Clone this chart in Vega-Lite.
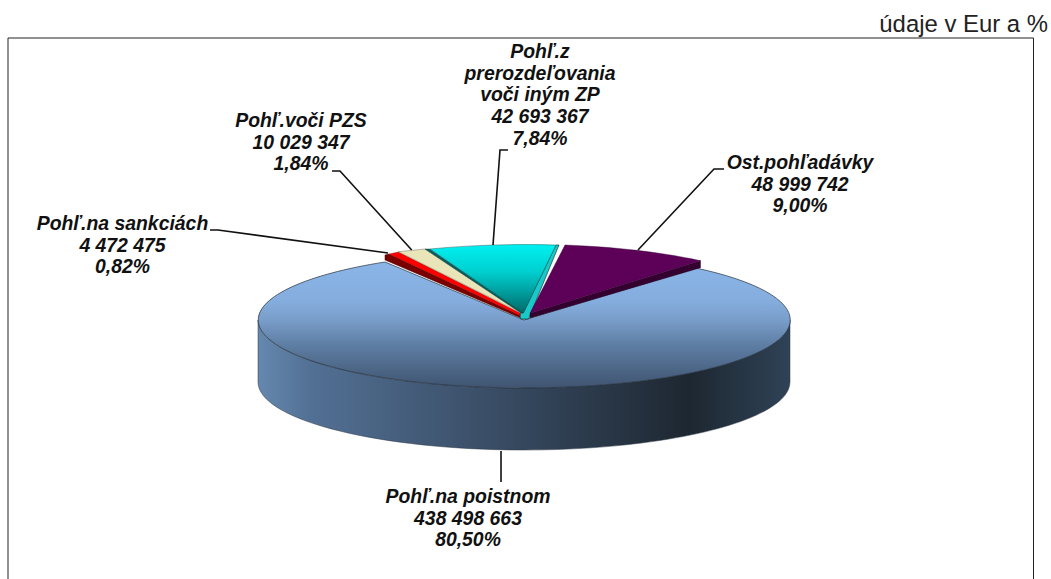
{
"$schema":"https://vega.github.io/schema/vega-lite/v6.json",
"width":1050,"height":578,
"autosize":"none",
"padding":{"left":0,"top":0,"right":1,"bottom":1},
"background":"white",
"view":{"stroke":null},
"title":{"text":"údaje v Eur a %","anchor":"end","frame":"group","offset":0,"dx":-2,"dy":55.5,"baseline":"alphabetic","font":"Liberation Sans","fontSize":23.9,"fontWeight":"normal","color":"#222222"},
"data":{"values":[
{"name":"Pohľ.na poistnom","value":438498663,"share":80.5,"label":"Pohľ.na poistnom\n438 498 663\n80,50%"},
{"name":"Ost.pohľadávky","value":48999742,"share":9.0,"label":"Ost.pohľadávky\n48 999 742\n9,00%"},
{"name":"Pohľ.z prerozdeľovania voči iným ZP","value":42693367,"share":7.84,"label":"Pohľ.z\nprerozdeľovania\nvoči iným ZP\n42 693 367\n7,84%"},
{"name":"Pohľ.voči PZS","value":10029347,"share":1.84,"label":"Pohľ.voči PZS\n10 029 347\n1,84%"},
{"name":"Pohľ.na sankciách","value":4472475,"share":0.82,"label":"Pohľ.na sankciách\n4 472 475\n0,82%"}
]},
"layer":[
{"transform":[{"filter":{"field":"name","equal":"Pohľ.na poistnom"}}],
 "mark":{"type":"point","filled":false,"opacity":1,"size":4,"stroke":"#222222","strokeWidth":1,"shape":"M-517 290V-251H508.5V290"},"encoding":{}},
{"transform":[{"filter":{"field":"name","equal":"Pohľ.na poistnom"}}],
 "mark":{"type":"point","filled":true,"opacity":1,"size":4,"stroke":"#2b3644","strokeWidth":0.5,"shape":"M-267 31A266 68 0 0 0 265 31V93A266 68 0 0 1 -267 93Z",
 "fill":{"gradient":"linear","x1":0,"y1":0,"x2":1,"y2":0,"stops":[{"offset":0,"color":"#6688ae"},{"offset":0.1,"color":"#527094"},{"offset":0.42,"color":"#3b4f68"},{"offset":0.81,"color":"#1d2731"},{"offset":1,"color":"#2f4256"}]}},"encoding":{}},
{"transform":[{"filter":{"field":"name","equal":"Pohľ.na poistnom"}}],
 "mark":{"type":"point","filled":true,"opacity":1,"size":4,"stroke":"#26303c","strokeWidth":0.7,"shape":"M-1 31L171 -21A266 68 0 1 1 -140 -27Z",
 "fill":{"gradient":"linear","x1":0,"y1":0,"x2":0,"y2":1,"stops":[{"offset":0,"color":"#8ab5e6"},{"offset":0.3,"color":"#85aedf"},{"offset":0.45,"color":"#7a9fcb"},{"offset":0.65,"color":"#5f7fa5"},{"offset":1,"color":"#3f5470"}]}},"encoding":{}},
{"transform":[{"filter":{"field":"name","equal":"Pohľ.na sankciách"}}],
 "mark":{"type":"point","filled":true,"opacity":1,"size":4,"fill":"#7a0000","stroke":"#3f0000","strokeWidth":0.5,"shape":"M-140 -34L-136 -35L-5 26.5L-5 28.5L-140 -29Z"},"encoding":{}},
{"transform":[{"filter":{"field":"name","equal":"Pohľ.na sankciách"}}],
 "mark":{"type":"point","filled":true,"opacity":1,"size":4,"fill":"#ff0000","stroke":"#7a0000","strokeWidth":0.3,"shape":"M-136 -35L-126.7 -37L-5 24L-5 26.5Z"},"encoding":{}},
{"transform":[{"filter":{"field":"name","equal":"Pohľ.voči PZS"}}],
 "mark":{"type":"point","filled":true,"opacity":1,"size":4,"fill":"#e9e5b9","stroke":"#55553f","strokeWidth":0.4,"shape":"M-126.7 -37.3L-100 -40L-3.3 24.3Z"},"encoding":{}},
{"transform":[{"filter":{"field":"name","equal":"Pohľ.z prerozdeľovania voči iným ZP"}}],
 "mark":{"type":"point","filled":true,"opacity":1,"size":4,"fill":"#0b5c5c","stroke":"#063c3c","strokeWidth":0.4,"shape":"M-100 -40L-95.5 -40L-1.7 23.7L-2.5 25Z"},"encoding":{}},
{"transform":[{"filter":{"field":"name","equal":"Pohľ.z prerozdeľovania voči iným ZP"}}],
 "mark":{"type":"point","filled":true,"opacity":1,"size":4,"fill":"#19c9c9","stroke":"#032626","strokeWidth":0.6,"shape":"M31 -44L34 -44L3.5 30L-4.5 30L-4.5 24L-1.7 24Z"},"encoding":{}},
{"transform":[{"filter":{"field":"name","equal":"Pohľ.z prerozdeľovania voči iným ZP"}}],
 "mark":{"type":"point","filled":true,"opacity":1,"size":4,"stroke":"#063c3c","strokeWidth":0.4,"shape":"M-95 -40A266 68 0 0 1 31 -44L-1.7 24Z",
 "fill":{"gradient":"linear","x1":0,"y1":0,"x2":0,"y2":1,"stops":[{"offset":0,"color":"#00f0f0"},{"offset":0.4,"color":"#00cfcf"},{"offset":1,"color":"#006a6a"}]}},"encoding":{}},
{"transform":[{"filter":{"field":"name","equal":"Ost.pohľadávky"}}],
 "mark":{"type":"point","filled":true,"opacity":1,"size":4,"fill":"#33002f","stroke":"#22001f","strokeWidth":0.4,"shape":"M5 24.3L175.5 -28.3V-21.3L5 29Z"},"encoding":{}},
{"transform":[{"filter":{"field":"name","equal":"Ost.pohľadávky"}}],
 "mark":{"type":"point","filled":true,"opacity":1,"size":4,"fill":"#5c0058","stroke":"#33002f","strokeWidth":0.4,"shape":"M40 -44A266 68 0 0 1 175.5 -28.3L5 24.3Z"},"encoding":{}},
{"mark":{"type":"point","filled":false,"opacity":1,"size":4,"stroke":"#111111","strokeWidth":1.6},
 "encoding":{"shape":{"field":"name","type":"nominal","legend":null,"scale":{
  "domain":["Pohľ.na poistnom","Ost.pohľadávky","Pohľ.z prerozdeľovania voči iným ZP","Pohľ.voči PZS","Pohľ.na sankciách"],
  "range":["M-24 162V193","M199 -120H189L113 -39","M-17 -139H-25L-32 -44","M-193 -118H-185L-113.3 -39","M-315 -59H-307L-137 -36"]}}}},
{"mark":{"type":"text","font":"Liberation Sans","fontSize":19.4,"fontWeight":"bold","fontStyle":"italic","color":"#111111","lineBreak":"\n","lineHeight":21.7,"align":"center","baseline":"middle"},
 "encoding":{"text":{"field":"label","type":"nominal"},
  "x":{"field":"value","type":"quantitative","axis":null,"scale":{"type":"linear","zero":false,"nice":false,"domain":[4472475,10029347,42693367,48999742,438498663],"range":[122.5,301,540,800,468]}},
  "y":{"field":"value","type":"quantitative","axis":null,"scale":{"type":"linear","zero":false,"nice":false,"domain":[4472475,10029347,42693367,48999742,438498663],"range":[224,121,52,163,497]}}}}
]
}
